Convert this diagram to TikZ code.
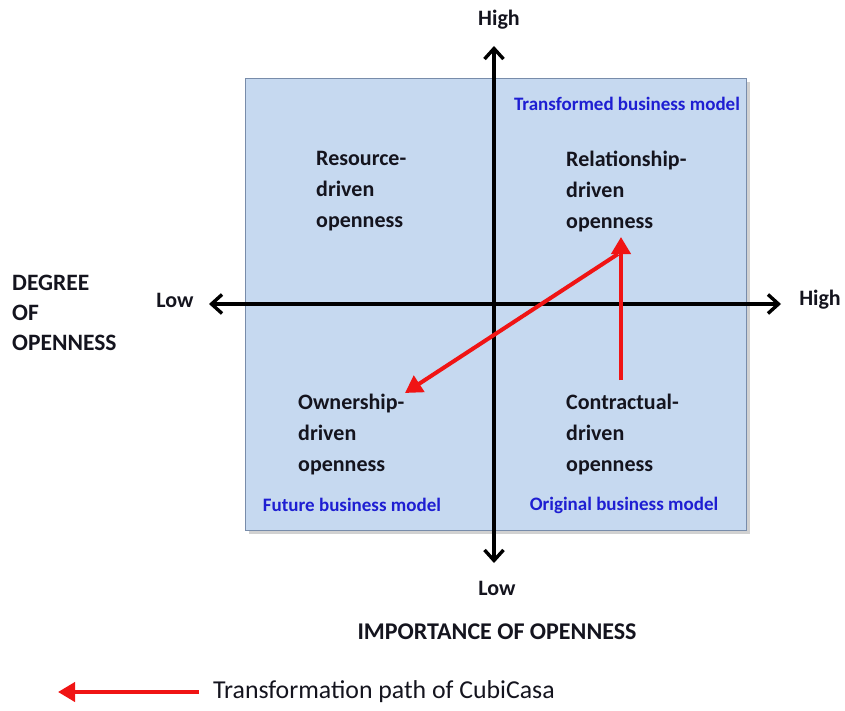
\documentclass[tikz,border=0pt]{standalone}
\usepackage{fontspec}
\setmainfont{Carlito}
\usetikzlibrary{arrows.meta}
\definecolor{boxfill}{RGB}{198,217,240}
\definecolor{boxline}{RGB}{120,140,170}
\definecolor{labblue}{RGB}{30,30,210}
\definecolor{txtdark}{RGB}{20,20,30}
\definecolor{redarr}{RGB}{240,20,20}
\tikzset{
  axis/.style={line width=3.6pt, black, -{Straight Barb[length=10.5pt,width=19pt,line width=3.4pt]}},
  path/.style={line width=4pt, redarr, -{Triangle[length=17pt,width=19pt]}},
  quad/.style={font=\bfseries\fontsize{22}{31}\selectfont, text=txtdark, align=left, anchor=west, inner sep=0pt},
  model/.style={font=\bfseries\fontsize{19}{20}\selectfont, text=labblue, inner sep=0pt},
  axlab/.style={font=\bfseries\fontsize{22}{24}\selectfont, text=txtdark, inner sep=0pt},
}
\begin{document}
\begin{tikzpicture}[x=1pt,y=-1pt]
\useasboundingbox (0,0) rectangle (845,711);
% shadow and box
\fill[black!18] (249,82) rectangle (750,534);
\draw[boxline, fill=boxfill, line width=0.8pt] (245,78) rectangle (746,530);
% axes
\coordinate (c) at (494,304);
\coordinate (top) at (494,46);
\coordinate (bot) at (494,563);
\coordinate (lft) at (209,304);
\coordinate (rgt) at (781,304);
\draw[axis] (c) -- (top);
\draw[axis] (c) -- (bot);
\draw[axis] (c) -- (lft);
\draw[axis] (c) -- (rgt);
% axis labels
\node[axlab] (hightop) at (499,20) {High};
\node[axlab] (lowbot) at (497,588) {Low};
\node[axlab] (lowleft) at (175,300) {Low};
\node[axlab] (highright) at (820,300) {High};
\node[axlab, anchor=west, align=left, font=\bfseries\fontsize{23.5}{30}\selectfont] (deg) at (12,313) {DEGREE\\OF\\OPENNESS};
\node[axlab, font=\bfseries\fontsize{24}{26}\selectfont] (imp) at (497,632) {IMPORTANCE OF OPENNESS};
% quadrant texts
\node[quad] (res) at (316,191) {Resource-\\driven\\openness};
\node[quad] (rel) at (566,191) {Relationship-\\driven\\openness};
\node[quad] (own) at (298,435) {Ownership-\\driven\\openness};
\node[quad] (con) at (566,435) {Contractual-\\driven\\openness};
% model labels
\node[model] (trans) at (627,104) {Transformed business model};
\node[model] (fut) at (352,505) {Future business model};
\node[model] (orig) at (624,505) {Original business model};
% red path
\coordinate (p1) at (621,380);
\coordinate (p2) at (621,237);
\coordinate (p3) at (618,254);
\coordinate (p4) at (405,393);
\draw[path] (p1) -- (p2);
\draw[path] (p3) -- (p4);
% legend
\coordinate (l1) at (199,692);
\coordinate (l2) at (58,692);
\draw[path] (l1) -- (l2);
\node[anchor=west, inner sep=0pt, font=\fontsize{25.8}{28}\selectfont, text=txtdark] (leg) at (213,692) {Transformation path of CubiCasa};
\end{tikzpicture}
\end{document}
